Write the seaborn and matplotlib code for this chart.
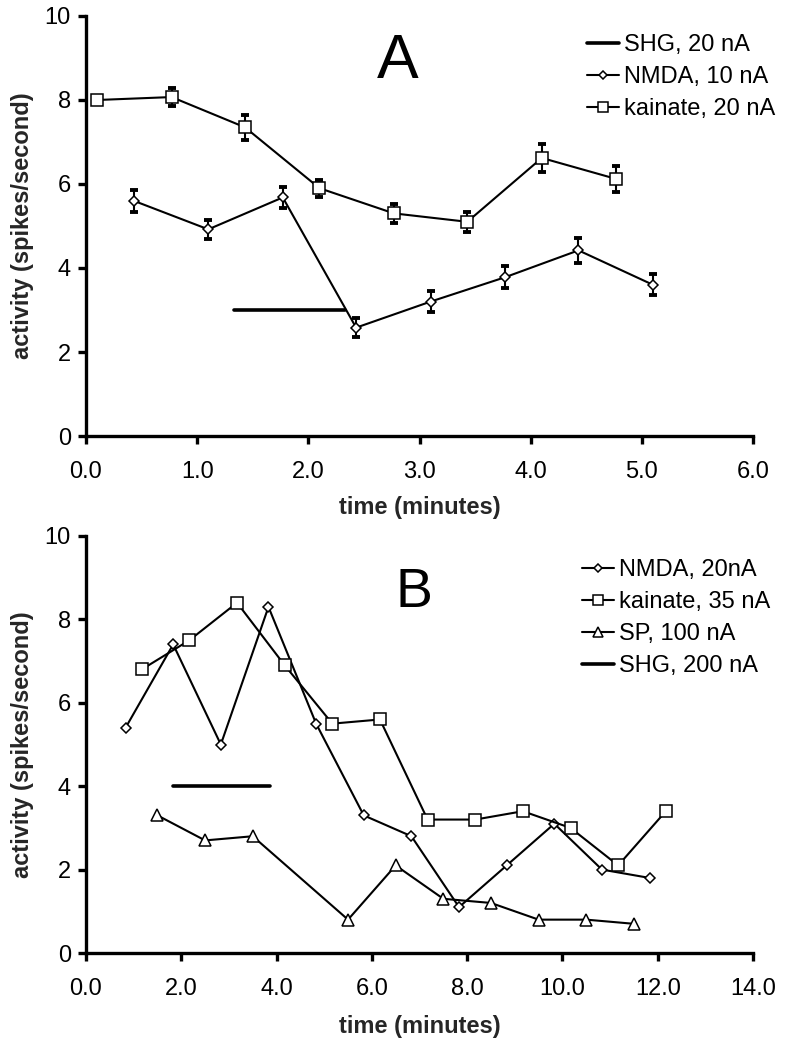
import matplotlib
matplotlib.use("Agg")
import matplotlib.pyplot as plt
import seaborn as sns

# ---------------------------------------------------------------------------
# Data
# ---------------------------------------------------------------------------

# Panel A
A_KAINATE_X   = [0.10, 0.77, 1.43, 2.10, 2.77, 3.43, 4.10, 4.77]
A_KAINATE_Y   = [8.00, 8.07, 7.35, 5.90, 5.30, 5.10, 6.62, 6.12]
A_KAINATE_ERR = [0.10, 0.22, 0.30, 0.20, 0.22, 0.24, 0.33, 0.30]

A_NMDA_X   = [0.43, 1.10, 1.77, 2.43, 3.10, 3.77, 4.43, 5.10]
A_NMDA_Y   = [5.60, 4.92, 5.68, 2.58, 3.20, 3.78, 4.42, 3.60]
A_NMDA_ERR = [0.26, 0.23, 0.24, 0.22, 0.25, 0.26, 0.29, 0.25]

A_SHG_X = [1.33, 2.33]
A_SHG_Y = [3.0, 3.0]

A_XTICKS = [0, 1, 2, 3, 4, 5, 6]

# Panel B
B_NMDA_X = [0.83, 1.83, 2.83, 3.83, 4.83, 5.83, 6.83, 7.83, 8.83, 9.83, 10.83, 11.83]
B_NMDA_Y = [5.4, 7.4, 5.0, 8.3, 5.5, 3.3, 2.8, 1.1, 2.1, 3.1, 2.0, 1.8]

B_KAINATE_X = [1.17, 2.17, 3.17, 4.17, 5.17, 6.17, 7.17, 8.17, 9.17, 10.17, 11.17, 12.17]
B_KAINATE_Y = [6.8, 7.5, 8.4, 6.9, 5.5, 5.6, 3.2, 3.2, 3.4, 3.0, 2.1, 3.4]

B_SP_X = [1.5, 2.5, 3.5, 5.5, 6.5, 7.5, 8.5, 9.5, 10.5, 11.5]
B_SP_Y = [3.3, 2.7, 2.8, 0.8, 2.1, 1.3, 1.2, 0.8, 0.8, 0.7]

B_SHG_X = [1.83, 3.87]
B_SHG_Y = [4.0, 4.0]

B_XTICKS = [0, 2, 4, 6, 8, 10, 12, 14]

Y_TICKS = [0, 2, 4, 6, 8, 10]

# ---------------------------------------------------------------------------
# Style
# ---------------------------------------------------------------------------

sns.set_theme(style="ticks")
plt.rcParams["font.family"] = ["Liberation Sans", "DejaVu Sans"]

W, H = 785, 1046
FS = 17
LW_DATA = 1.5
LW_SPINE = 2.4

fig = plt.figure(figsize=(W / 100, H / 100), dpi=100)
fig.patch.set_facecolor("white")


def px_axes(left, top, right, bottom):
    return fig.add_axes([left / W, 1 - bottom / H, (right - left) / W, (bottom - top) / H])


def style_axes(ax, xmax, xticks):
    ax.set_facecolor("white")
    ax.set_xlim(0, xmax)
    ax.set_ylim(0, 10)
    ax.set_xticks(xticks)
    ax.set_xticklabels([f"{t:.1f}" for t in xticks])
    ax.set_yticks(Y_TICKS)
    ax.set_yticklabels([str(t) for t in Y_TICKS])
    sns.despine(ax=ax)
    for side in ("left", "bottom"):
        ax.spines[side].set_linewidth(LW_SPINE)
        ax.spines[side].set_color("black")
    ax.tick_params(axis="both", direction="out", length=5.8, width=LW_SPINE,
                   color="black", labelcolor="black", labelsize=FS)
    ax.tick_params(axis="x", pad=12)
    ax.tick_params(axis="y", pad=5)
    ax.set_xlabel("time (minutes)", fontsize=FS, fontweight="bold", va="center")
    ax.set_ylabel("activity (spikes/second)", fontsize=FS, fontweight="bold", va="center")
    ax.grid(False)


def series(ax, x, y, marker, ms, label):
    sns.lineplot(x=x, y=y, ax=ax, color="black", linewidth=LW_DATA,
                 marker=marker, markersize=ms, markerfacecolor="white",
                 markeredgecolor="black", markeredgewidth=1.1,
                 label=label, zorder=4, estimator=None, sort=False)


def bars(ax, x, y, err):
    ax.errorbar(x, y, yerr=err, fmt="none", ecolor="black", elinewidth=1.5,
                capsize=3.2, capthick=2.8, zorder=3)


def shg(ax, x, y, label):
    sns.lineplot(x=x, y=y, ax=ax, color="black", linewidth=2.6,
                 label=label, zorder=2, estimator=None, sort=False)


def legend(ax, left, top, order):
    handles, labels = ax.get_legend_handles_labels()
    lookup = dict(zip(labels, handles))
    leg = ax.legend([lookup[k] for k in order], order,
                    loc="upper left", bbox_to_anchor=(left / W, 1 - top / H),
                    bbox_transform=fig.transFigure, frameon=False,
                    borderpad=0, borderaxespad=0, fontsize=FS,
                    handlelength=1.35, handletextpad=0.22, labelspacing=0.43,
                    markerscale=0.85)
    for t in leg.get_texts():
        t.set_color("black")


# ---------------------------------------------------------------------------
# Panel A
# ---------------------------------------------------------------------------

axA = px_axes(86, 16, 753, 436)
shg(axA, A_SHG_X, A_SHG_Y, "SHG, 20 nA")
bars(axA, A_NMDA_X, A_NMDA_Y, A_NMDA_ERR)
bars(axA, A_KAINATE_X, A_KAINATE_Y, A_KAINATE_ERR)
series(axA, A_NMDA_X, A_NMDA_Y, "D", 5.3, "NMDA, 10 nA")
series(axA, A_KAINATE_X, A_KAINATE_Y, "s", 8, "kainate, 20 nA")
style_axes(axA, 6, A_XTICKS)
axA.xaxis.set_label_coords(0.5, (436 - 507) / 420)
axA.yaxis.set_label_coords((23 - 86) / 667, 0.5)
legend(axA, 587, 34, ["SHG, 20 nA", "NMDA, 10 nA", "kainate, 20 nA"])
fig.text(398 / W, 1 - 78 / H, "A", fontsize=45, ha="center", va="baseline", color="black")

# ---------------------------------------------------------------------------
# Panel B
# ---------------------------------------------------------------------------

axB = px_axes(86, 536, 753, 953)
shg(axB, B_SHG_X, B_SHG_Y, "SHG, 200 nA")
series(axB, B_NMDA_X, B_NMDA_Y, "D", 5.0, "NMDA, 20nA")
series(axB, B_KAINATE_X, B_KAINATE_Y, "s", 8, "kainate, 35 nA")
series(axB, B_SP_X, B_SP_Y, "^", 9, "SP, 100 nA")
style_axes(axB, 14, B_XTICKS)
axB.xaxis.set_label_coords(0.5, (953 - 1027) / 417)
axB.yaxis.set_label_coords((23 - 86) / 667, 0.5)
legend(axB, 582, 559, ["NMDA, 20nA", "kainate, 35 nA", "SP, 100 nA", "SHG, 200 nA"])
fig.text(414 / W, 1 - 607 / H, "B", fontsize=40, ha="center", va="baseline", color="black")

fig.savefig("out.png", dpi=100, facecolor="white")
